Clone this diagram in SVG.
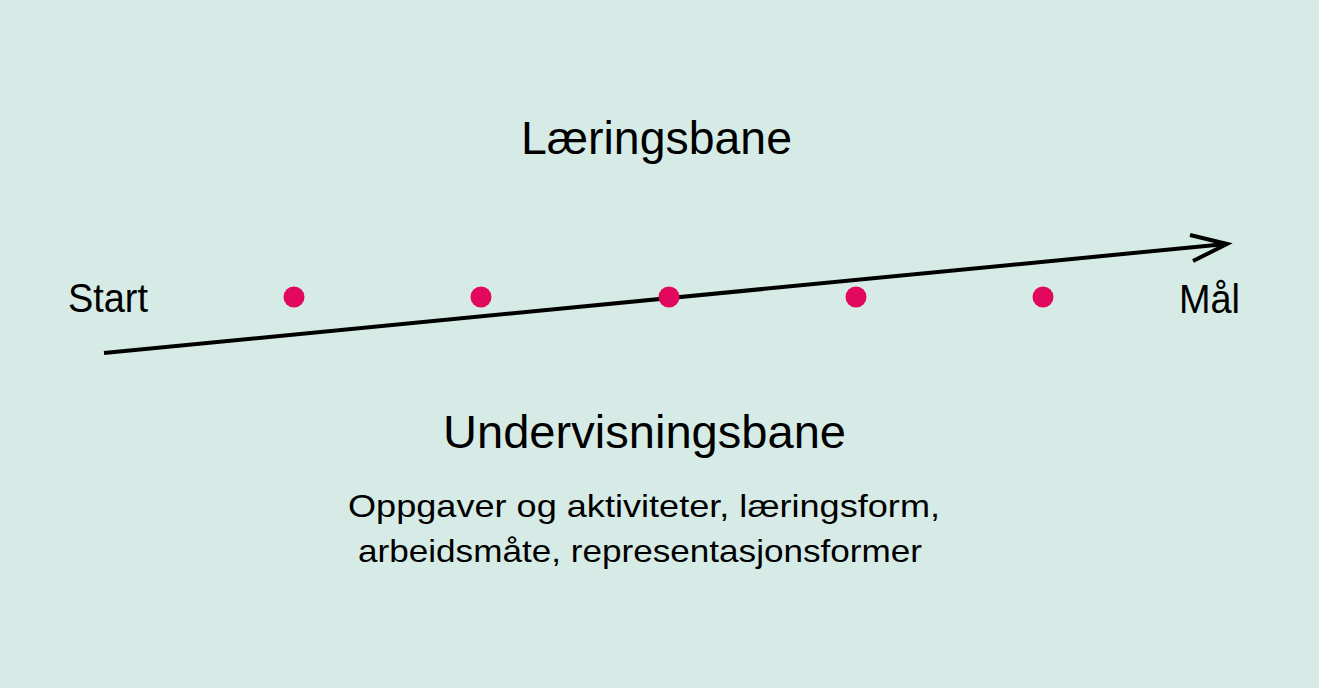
<svg xmlns="http://www.w3.org/2000/svg" width="1319" height="688" viewBox="0 0 1319 688">
<style>
.t{font-family:"Liberation Sans","Open Sans",Arial,sans-serif;fill:#000;}
.dot{fill:#e2085e;}
.ln{stroke:#000;stroke-width:4;fill:none;stroke-linecap:butt;}
</style>
<rect width="1319" height="688" fill="#d6ebe6"/>
<g id="connectors">
<line class="ln" x1="104" y1="353" x2="1226" y2="244"/>
<polyline class="ln" points="1190,235 1227,244 1193,261" stroke-linejoin="miter"/>
</g>
<g id="title"><text class="t" x="521" y="154" font-size="46" textLength="271" lengthAdjust="spacingAndGlyphs">Læringsbane</text></g>
<g id="start"><text class="t" x="68" y="312" font-size="40" textLength="80" lengthAdjust="spacingAndGlyphs">Start</text></g>
<g id="goal"><text class="t" x="1179" y="313" font-size="40" textLength="61" lengthAdjust="spacingAndGlyphs">Mål</text></g>
<g id="dots">
<circle class="dot" cx="294" cy="297" r="10.5"/>
<circle class="dot" cx="481" cy="297" r="10.5"/>
<circle class="dot" cx="669" cy="297" r="10.5"/>
<circle class="dot" cx="856" cy="297" r="10.5"/>
<circle class="dot" cx="1043" cy="297" r="10.5"/>
</g>
<g id="teaching">
<text class="t" x="443" y="448" font-size="47" textLength="403" lengthAdjust="spacingAndGlyphs">Undervisningsbane</text>
<text class="t" x="348" y="517" font-size="32" textLength="592" lengthAdjust="spacingAndGlyphs">Oppgaver og aktiviteter, læringsform,</text>
<text class="t" x="358" y="562" font-size="32" textLength="564" lengthAdjust="spacingAndGlyphs">arbeidsmåte, representasjonsformer</text>
</g>
</svg>
